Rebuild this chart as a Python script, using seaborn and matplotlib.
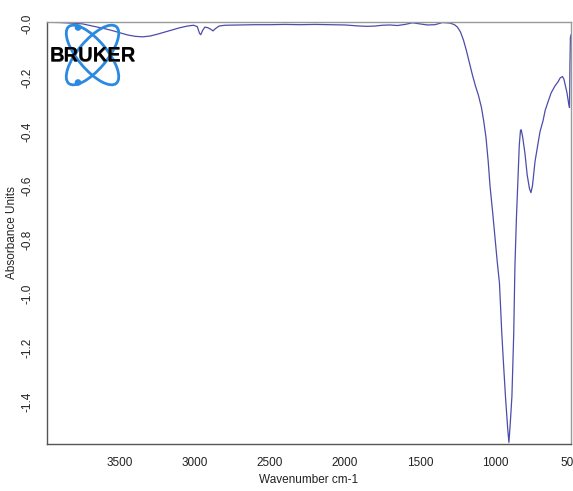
import matplotlib
matplotlib.use("Agg")
import matplotlib.pyplot as plt
import seaborn as sns
import pandas as pd
from matplotlib.patches import Ellipse, Circle
from matplotlib.ticker import FixedLocator

# --- spectrum ---
wavenumber = [3990, 3900, 3800, 3750, 3700, 3650, 3600, 3550, 3500, 3450,
              3400, 3350, 3300, 3250, 3200, 3150, 3100, 3050, 3010, 2985,
              2970, 2962, 2950, 2935, 2915, 2895, 2880, 2865, 2840, 2800,
              2700, 2600, 2500, 2400, 2300, 2200, 2100, 2000, 1950, 1900,
              1850, 1800, 1750, 1700, 1650, 1600, 1550, 1500, 1450, 1400,
              1350, 1300, 1270, 1250, 1230, 1210, 1190, 1170, 1150, 1130,
              1110, 1090, 1075, 1060, 1045, 1033, 1015, 1000, 985, 970,
              955, 945, 930, 915, 907, 898, 887, 875, 867, 857,
              847, 838, 830, 825, 815, 800, 785, 770, 760, 750,
              733, 715, 700, 680, 665, 647, 625, 600, 580, 565,
              550, 540, 530, 520, 510, 503, 500, 497, 493]
absorbance = [0.006, 0.005, 0.002, 0.000, -0.006, -0.012, -0.018, -0.025, -0.033, -0.041,
              -0.046, -0.048, -0.045, -0.038, -0.030, -0.022, -0.014, -0.008, -0.005, -0.010,
              -0.035, -0.040, -0.025, -0.012, -0.014, -0.020, -0.026, -0.018, -0.008, -0.005,
              -0.004, -0.003, -0.003, -0.002, -0.003, -0.002, -0.003, -0.004, -0.006, -0.008,
              -0.009, -0.008, -0.005, -0.004, -0.006, -0.002, 0.004, 0.000, -0.004, -0.003,
              0.005, 0.003, -0.003, -0.012, -0.030, -0.060, -0.100, -0.145, -0.190, -0.230,
              -0.265, -0.310, -0.360, -0.420, -0.510, -0.600, -0.700, -0.790, -0.880, -0.960,
              -1.140, -1.240, -1.380, -1.500, -1.550, -1.480, -1.380, -1.150, -0.900, -0.720,
              -0.580, -0.450, -0.395, -0.392, -0.420, -0.480, -0.560, -0.610, -0.625, -0.600,
              -0.510, -0.450, -0.400, -0.360, -0.320, -0.290, -0.255, -0.230, -0.215, -0.200,
              -0.195, -0.205, -0.230, -0.255, -0.290, -0.310, -0.150, -0.050, -0.040]

x_ticks = [3500, 3000, 2500, 2000, 1500, 1000, 500]
y_ticks = [0.0, -0.2, -0.4, -0.6, -0.8, -1.0, -1.2, -1.4]

df = pd.DataFrame({"wn": wavenumber, "abs": absorbance})

sns.set_style("white")
plt.rcParams['font.family'] = ['Liberation Sans', 'DejaVu Sans']

fig = plt.figure(figsize=(5.73, 4.91), dpi=100)
ax = fig.add_axes([47 / 573, 47 / 491, 524 / 573, 422 / 491])

sns.lineplot(data=df, x="wn", y="abs", ax=ax, color="#4c4caa", linewidth=0.9,
             sort=False, estimator=None)

ax.set_xlim(3987, 493)
ax.set_ylim(-1.556, 0.007)

ax.xaxis.set_major_locator(FixedLocator(x_ticks))
ax.yaxis.set_major_locator(FixedLocator(y_ticks))
# "-0.0" style labels as in the instrument software
ax.set_yticklabels([f"-{abs(v):.1f}" for v in y_ticks], rotation=90, va="center")
ax.set_xticklabels([str(v) for v in x_ticks])
ax.tick_params(axis="both", direction="out", length=5, width=0.8, color="#555555",
               labelsize=8.5, labelcolor="#222222")
ax.tick_params(axis="y", pad=5)
ax.tick_params(axis="x", pad=4)

ax.set_xlabel("Wavenumber cm-1", fontsize=8.5, color="#222222", labelpad=4)
ax.set_ylabel("Absorbance Units", fontsize=8.5, color="#222222", labelpad=2)

for side in ["left", "bottom"]:
    ax.spines[side].set_color("#555555")
    ax.spines[side].set_linewidth(1.0)
for side in ["top", "right"]:
    ax.spines[side].set_color("#999999")
    ax.spines[side].set_linewidth(1.0)

# --- Bruker logo (drawn in image pixel coords) ---
lg = fig.add_axes([45 / 573, (491 - 90) / 491, 95 / 573, 70 / 491])
lg.set_xlim(45, 140)
lg.set_ylim(90, 20)
lg.axis("off")
blue = "#2a8ae2"
for ang in (50, -50):
    lg.add_patch(Ellipse((92.5, 55), 74, 29, angle=ang, fill=False, ec=blue, lw=2.0))
lg.add_patch(Circle((78, 27.5), 2.6, color=blue))
lg.add_patch(Circle((78, 82.5), 2.6, color=blue))
lg.text(93, 56, "BRUKER", ha="center", va="center", fontsize=14.5,
        fontweight="bold", color="#505050")
lg.text(92.5, 55.5, "BRUKER", ha="center", va="center", fontsize=14.5,
        fontweight="bold", color="black")

fig.savefig("out.png", dpi=100)
